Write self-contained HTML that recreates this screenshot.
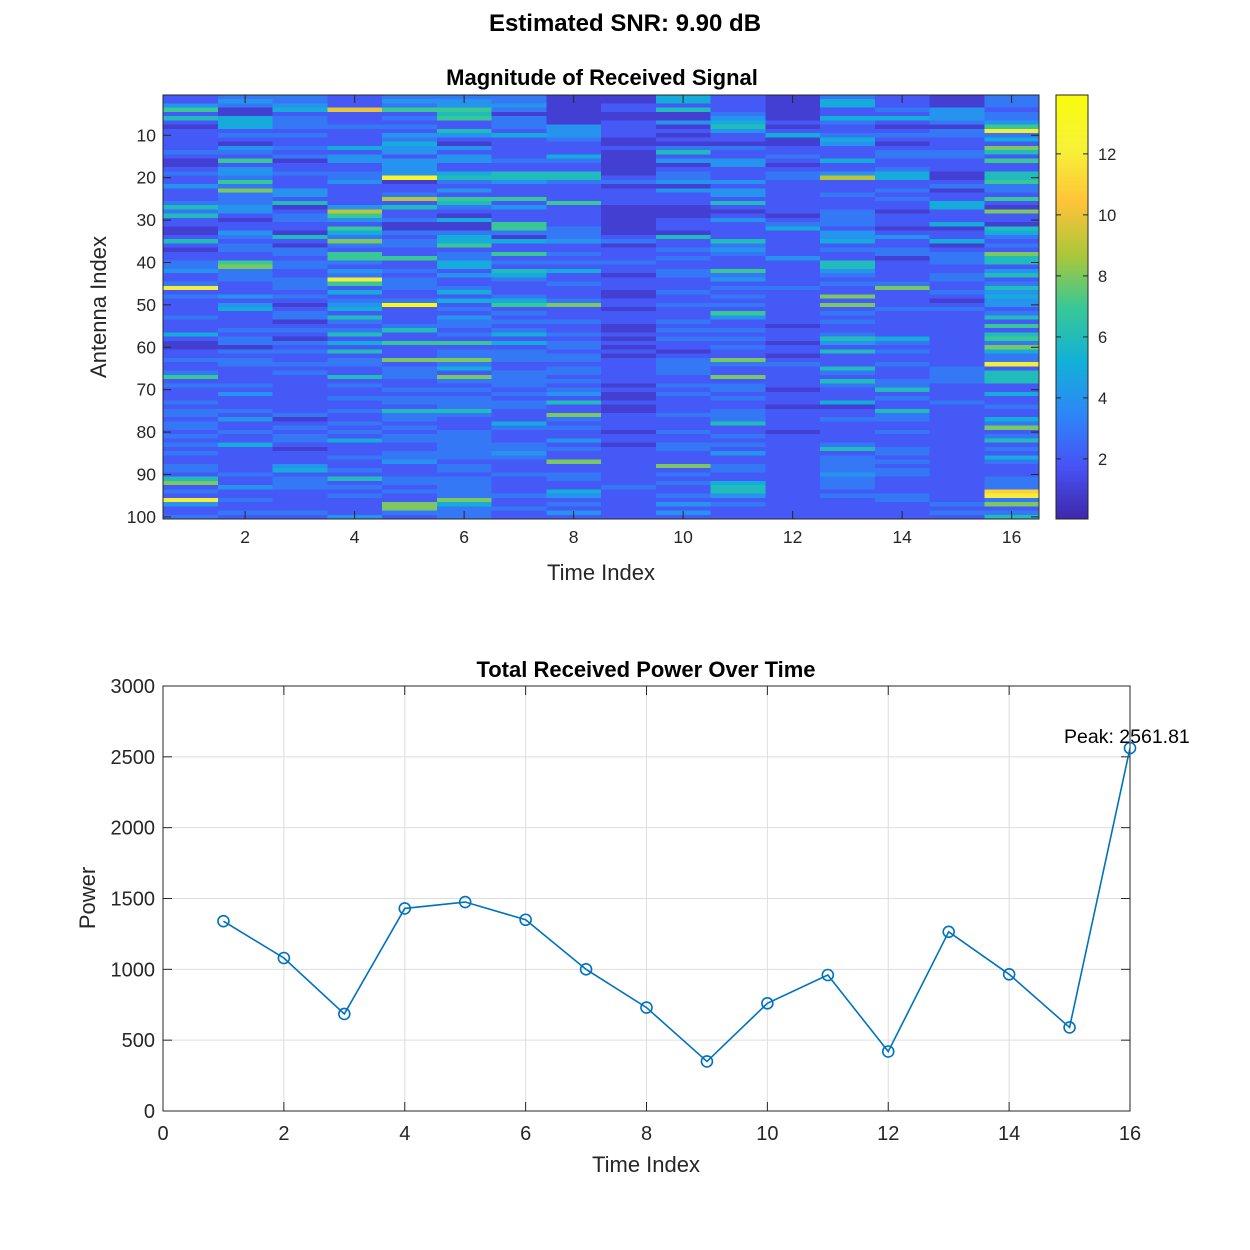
<!DOCTYPE html>
<html><head><meta charset="utf-8"><style>
body{margin:0;background:#fff;}
svg{display:block;font-family:"Liberation Sans",Arial,sans-serif;}
</style></head><body>
<svg id="fig" width="1250" height="1250" viewBox="0 0 1250 1250" xmlns="http://www.w3.org/2000/svg">
<rect width="1250" height="1250" fill="#fff"/>
<text x="625" y="31" text-anchor="middle" font-size="24" font-weight="bold">Estimated SNR: 9.90 dB</text>
<g id="topPanel"></g>
<g id="botPanel"></g>
</svg>
<script>
const magnitudeRows = [
[2,3,3,2,3,3,3,1,1,5,2,1,3,2,1,3],
[2,4,3,2,4,4,3,1,1,5,2,1,5,2,1,3],
[4,3,4,2,3,4,4,1,2,2,2,1,5,2,1,3],
[7,1,5,10,7,7,3,1,2,6,2,1,2,3,4,2],
[2,1,2,2,2,6,1,1,1,1,3,1,2,2,4,3],
[6,5,3,2,3,7,3,1,1,1,4,1,5,5,4,3],
[2,5,3,2,2,2,3,1,2,4,5,2,3,2,3,4],
[1,5,3,3,3,2,3,4,2,1,6,1,2,1,1,7],
[2,2,2,2,2,6,2,4,2,2,4,2,2,2,3,12],
[2,3,3,2,4,4,5,4,2,1,2,5,3,3,3,3],
[2,2,2,2,3,2,2,3,1,2,2,1,5,2,2,5],
[2,1,2,2,5,1,2,2,1,1,1,1,4,1,2,2],
[2,4,3,5,4,4,2,2,2,3,3,2,2,2,2,8],
[3,3,2,2,4,2,2,2,1,6,2,2,2,3,3,6],
[2,2,3,4,2,4,2,5,1,2,2,3,2,3,3,2],
[1,7,1,4,4,4,3,3,1,4,4,2,5,2,2,7],
[1,2,2,2,4,2,2,2,1,1,4,1,2,2,2,2],
[2,4,2,2,4,2,2,2,1,2,2,2,2,3,2,2],
[3,4,3,3,4,5,6,6,1,3,2,3,4,5,1,6],
[2,3,2,3,13,6,6,6,2,3,2,3,9,5,1,6],
[2,7,2,4,1,3,4,3,3,4,4,2,2,2,2,7],
[4,3,2,2,2,2,2,2,1,1,2,2,2,2,3,3],
[2,8,4,2,2,4,2,2,2,4,4,2,2,3,1,3],
[2,3,4,2,3,2,2,2,2,2,4,2,3,2,2,2],
[2,3,2,2,9,7,7,2,2,2,2,2,2,3,2,7],
[3,3,6,2,2,6,2,7,2,2,6,2,2,2,5,2],
[6,4,1,4,6,3,4,2,1,1,2,2,2,2,5,1],
[3,4,2,9,2,2,2,2,1,1,1,2,3,1,2,8],
[6,2,3,7,2,1,2,2,1,1,2,1,3,2,2,2],
[2,1,3,4,3,5,2,2,1,2,4,2,3,2,2,2],
[2,2,2,2,1,1,7,2,1,2,2,3,3,2,5,1],
[1,2,2,7,1,1,7,3,1,2,2,5,2,1,1,6],
[1,4,1,5,3,3,3,3,1,1,2,2,4,2,2,5],
[2,3,6,3,2,5,1,3,2,6,2,2,4,4,2,3],
[6,2,2,8,3,5,5,4,3,2,6,2,5,2,5,2],
[2,3,1,3,3,7,2,2,1,2,3,2,2,2,1,3],
[1,3,3,2,2,2,2,2,2,3,4,2,3,3,2,2],
[2,2,3,7,2,3,7,3,2,2,3,2,2,3,3,8],
[2,2,2,7,7,3,2,2,2,3,2,4,2,1,3,6],
[3,7,3,3,2,5,3,3,3,2,2,2,6,2,3,6],
[3,8,3,2,2,5,2,2,2,2,2,2,6,2,2,2],
[4,3,2,4,3,2,6,5,2,3,7,2,4,2,2,4],
[2,3,2,3,2,4,5,2,1,3,3,2,3,2,3,6],
[2,3,3,12,3,2,3,2,2,2,4,2,2,2,3,2],
[3,2,3,7,3,2,2,3,2,2,2,2,3,3,2,3],
[12,2,3,2,3,3,2,2,2,2,3,3,2,8,2,6],
[2,2,2,5,2,5,2,2,1,3,2,2,2,2,3,4],
[3,4,3,2,2,2,3,2,1,2,3,2,8,2,2,5],
[2,2,2,3,3,5,5,3,2,2,2,2,2,2,1,4],
[2,4,1,4,14,2,7,8,2,3,3,2,8,2,2,4],
[2,5,2,5,2,3,2,2,1,2,2,2,2,3,3,2],
[2,2,3,2,2,2,3,2,2,2,7,2,3,2,2,3],
[3,2,3,6,2,4,2,2,2,2,4,2,2,2,2,6],
[2,2,1,3,2,3,3,3,2,3,2,2,3,2,2,2],
[2,2,2,2,3,3,2,2,1,2,2,1,2,2,2,7],
[2,3,3,3,6,2,3,2,1,3,3,2,2,2,2,2],
[5,2,2,6,2,3,5,3,2,2,2,2,3,2,2,6],
[2,3,1,2,2,2,2,2,1,3,3,2,6,5,2,7],
[1,3,3,5,7,7,5,3,2,2,2,1,4,3,2,3],
[1,1,2,2,2,2,2,3,1,2,3,2,2,2,2,8],
[2,3,3,6,2,3,3,2,2,1,2,2,6,3,2,5],
[2,2,2,2,2,3,3,3,1,2,2,1,2,2,2,3],
[3,3,2,3,8,8,3,3,2,3,8,2,2,2,2,3],
[2,3,3,3,2,3,2,2,2,3,3,3,2,3,2,12],
[2,2,2,2,3,5,2,3,2,3,2,2,6,2,3,2],
[3,2,3,2,3,2,3,3,2,3,2,2,3,2,3,6],
[7,2,2,6,3,8,3,2,2,2,8,2,2,2,3,6],
[2,2,2,2,2,3,3,3,2,2,2,2,6,3,3,6],
[3,3,2,3,2,2,3,2,1,3,3,2,3,3,2,2],
[2,2,2,2,3,3,2,3,2,2,3,1,2,6,2,2],
[2,4,2,2,2,2,3,4,1,3,2,2,2,2,2,5],
[2,2,2,3,3,3,2,2,1,2,3,2,2,3,2,2],
[3,2,2,2,3,3,3,6,2,2,2,2,5,2,3,2],
[2,2,2,2,2,3,3,2,1,2,2,1,1,2,2,3],
[3,3,2,3,6,6,2,2,1,2,3,2,2,6,2,2],
[3,2,3,2,3,3,2,8,2,3,3,2,2,3,2,2],
[2,4,1,2,3,2,2,3,2,2,3,2,3,3,2,5],
[3,2,2,3,2,2,5,2,2,2,6,2,2,2,2,3],
[3,2,3,2,3,2,3,3,2,2,2,2,2,2,2,8],
[2,3,2,3,2,3,2,2,1,3,2,1,2,3,2,2],
[3,2,3,2,3,3,2,2,2,2,3,2,2,2,2,3],
[2,2,3,5,3,3,2,4,2,2,2,2,2,2,2,6],
[3,5,2,2,2,3,3,2,1,3,3,2,3,2,2,2],
[2,2,1,2,2,3,3,3,2,3,2,2,6,3,2,3],
[3,2,2,2,3,3,4,2,2,2,4,2,2,3,2,2],
[2,2,2,3,3,3,3,2,2,2,2,2,3,2,2,5],
[2,2,2,2,4,2,2,8,2,2,2,2,3,3,2,3],
[3,2,4,2,2,3,2,2,2,8,3,2,3,2,2,2],
[3,2,5,3,2,3,2,2,2,2,3,2,3,3,2,2],
[2,3,2,2,2,2,3,3,2,3,2,2,4,3,2,2],
[6,2,3,6,3,3,2,3,2,2,2,2,3,2,2,3],
[8,2,3,2,3,3,2,2,2,3,5,2,3,2,2,3],
[2,4,3,3,2,3,2,2,3,2,6,2,3,2,2,3],
[3,2,2,2,3,3,2,5,2,2,6,2,2,2,2,11],
[2,2,2,3,2,3,3,4,2,3,4,2,3,3,2,12],
[12,3,2,2,2,8,2,2,2,2,2,2,2,3,2,3],
[4,2,2,2,8,5,2,3,2,4,3,2,2,2,3,8],
[2,2,2,2,8,3,3,2,2,2,2,2,2,2,2,2],
[2,3,3,2,3,3,2,4,2,4,2,2,2,2,3,3],
[3,2,2,4,2,3,2,2,2,2,2,2,2,2,2,6]
];
const heatXTicks = [2,4,6,8,10,12,14,16];
const heatYTicks = [10,20,30,40,50,60,70,80,90,100];
const cbarTicks = [2,4,6,8,10,12];
const timeIndex = [1,2,3,4,5,6,7,8,9,10,11,12,13,14,15,16];
const totalPower = [1340,1080,685,1430,1475,1350,1000,730,350,760,960,420,1265,965,590,2561.81];
const powerXTicks = [0,2,4,6,8,10,12,14,16];
const powerYTicks = [0,500,1000,1500,2000,2500,3000];

const NS="http://www.w3.org/2000/svg";
function mk(parent,tag,attrs,text){const e=document.createElementNS(NS,tag);for(const k in attrs)e.setAttribute(k,attrs[k]);if(text!==undefined)e.textContent=text;parent.appendChild(e);return e;}
const parula=[[0.2422,0.1504,0.6603],[0.2810,0.3228,0.9579],[0.1786,0.5289,0.9682],[0.0689,0.6948,0.8394],[0.2161,0.7843,0.5923],[0.6720,0.7793,0.2227],[0.9970,0.7659,0.2199],[0.9657,0.9494,0.2189],[0.9763,0.9831,0.0538]];
function cmap(t){t=Math.max(0,Math.min(1,t));const p=t*8,i=Math.min(7,Math.floor(p)),f=p-i;const a=parula[i],b=parula[i+1];return 'rgb('+a.map((v,k)=>Math.round(255*(v+(b[k]-v)*f))).join(',')+')';}
const cmin=0.03,cmax=13.93;

const topG=document.getElementById('topPanel');
const hx0=163,hx1=1039,hy0=95,hy1=519;
const nCols=magnitudeRows[0].length,nRows=magnitudeRows.length;
const colX=c=>hx0+(c-0.5)*(hx1-hx0)/nCols;
const rowY=r=>hy0+(r-0.5)*(hy1-hy0)/nRows;
const cw=(hx1-hx0)/nCols,rh=(hy1-hy0)/nRows;
mk(topG,'text',{x:602,y:85,'text-anchor':'middle','font-size':22,'font-weight':'bold',},'Magnitude of Received Signal');
const cells=mk(topG,'g',{'shape-rendering':'crispEdges'});


magnitudeRows.forEach((row,ri)=>row.forEach((v,ci)=>{
  const r=mk(cells,'rect',{x:colX(ci+1)-cw/2,y:rowY(ri+1)-rh/2,width:cw+0.6,height:rh+0.6,fill:cmap((v-cmin)/(cmax-cmin))});
  
  
}));
mk(topG,'rect',{x:hx0,y:hy0,width:hx1-hx0,height:hy1-hy0,fill:'none',stroke:'#262626','stroke-width':1});
heatXTicks.forEach(t=>{const x=colX(t);
  mk(topG,'line',{x1:x,x2:x,y1:hy1,y2:hy1-8,stroke:'#262626'});mk(topG,'line',{x1:x,x2:x,y1:hy0,y2:hy0+8,stroke:'#262626'});
  const tx=mk(topG,'text',{x:x,y:hy1+24,'text-anchor':'middle','font-size':17.5,fill:'#262626'},t);
  
  });
heatYTicks.forEach(t=>{const y=rowY(t);
  mk(topG,'line',{x1:hx0,x2:hx0+8,y1:y,y2:y,stroke:'#262626'});mk(topG,'line',{x1:hx1,x2:hx1-8,y1:y,y2:y,stroke:'#262626'});
  const ty=mk(topG,'text',{x:hx0-7,y:y+6,'text-anchor':'end','font-size':17.5,fill:'#262626'},t);
  
  });
mk(topG,'text',{x:601,y:580,'text-anchor':'middle','font-size':22,fill:'#262626',},'Time Index');
mk(topG,'text',{x:0,y:0,transform:'translate(106,307) rotate(-90)','text-anchor':'middle','font-size':22,fill:'#262626',},'Antenna Index');
const cb=mk(topG,'g',{});


const cbx0=1056,cbx1=1088;
const cbY=v=>hy1-(v-cmin)/(cmax-cmin)*(hy1-hy0);
for(let i=0;i<212;i++){const y=hy0+i*2;mk(cb,'rect',{x:cbx0,y:y,width:cbx1-cbx0,height:2.5,fill:cmap(1-(i*2)/(hy1-hy0))});}
mk(cb,'rect',{x:cbx0,y:hy0,width:cbx1-cbx0,height:hy1-hy0,fill:'none',stroke:'#262626'});
cbarTicks.forEach(t=>{const y=cbY(t);
  mk(cb,'line',{x1:cbx1,x2:cbx1-5,y1:y,y2:y,stroke:'#262626'});mk(cb,'line',{x1:cbx0,x2:cbx0+5,y1:y,y2:y,stroke:'#262626'});
  const tt=mk(cb,'text',{x:cbx1+10,y:y+6,'font-size':16.5,fill:'#262626'},t);
  
  });

const botG=document.getElementById('botPanel');
const bx0=163,bx1=1130,by0=686,by1=1111;
const X=v=>bx0+v/16*(bx1-bx0), Y=v=>by1-v/3000*(by1-by0);
mk(botG,'text',{x:646,y:677,'text-anchor':'middle','font-size':22,'font-weight':'bold',},'Total Received Power Over Time');
powerXTicks.forEach(t=>{const x=X(t);mk(botG,'line',{x1:x,x2:x,y1:by0,y2:by1,stroke:'#dedede'});});
powerYTicks.forEach(t=>{const y=Y(t);mk(botG,'line',{x1:bx0,x2:bx1,y1:y,y2:y,stroke:'#dedede'});});
mk(botG,'rect',{x:bx0,y:by0,width:bx1-bx0,height:by1-by0,fill:'none',stroke:'#262626'});
powerXTicks.forEach(t=>{const x=X(t);
  mk(botG,'line',{x1:x,x2:x,y1:by1,y2:by1-9,stroke:'#262626'});mk(botG,'line',{x1:x,x2:x,y1:by0,y2:by0+9,stroke:'#262626'});
  const tx=mk(botG,'text',{x:x,y:by1+29,'text-anchor':'middle','font-size':20,fill:'#262626'},t);
  
  });
powerYTicks.forEach(t=>{const y=Y(t);
  mk(botG,'line',{x1:bx0,x2:bx0+9,y1:y,y2:y,stroke:'#262626'});mk(botG,'line',{x1:bx1,x2:bx1-9,y1:y,y2:y,stroke:'#262626'});
  const ty=mk(botG,'text',{x:bx0-8,y:y+7,'text-anchor':'end','font-size':20,fill:'#262626'},t);
  
  });
mk(botG,'text',{x:646,y:1172,'text-anchor':'middle','font-size':22,fill:'#262626',},'Time Index');
mk(botG,'text',{x:0,y:0,transform:'translate(95,898) rotate(-90)','text-anchor':'middle','font-size':22,fill:'#262626',},'Power');
const line=mk(botG,'polyline',{points:timeIndex.map((t,i)=>X(t)+','+Y(totalPower[i])).join(' '),fill:'none',stroke:'#0072BD','stroke-width':1.6});


timeIndex.forEach((t,i)=>{
  const c=mk(botG,'circle',{cx:X(t),cy:Y(totalPower[i]),r:5.5,fill:'none',stroke:'#0072BD','stroke-width':1.6});
  
  
});
let pk=0;totalPower.forEach((v,i)=>{if(v>totalPower[pk])pk=i;});
const pl=mk(botG,'text',{x:X(timeIndex[pk])-66,y:Y(totalPower[pk])-5,'font-size':19.5,fill:'#000'},'Peak: '+totalPower[pk].toFixed(2));


</script>
</body></html>
